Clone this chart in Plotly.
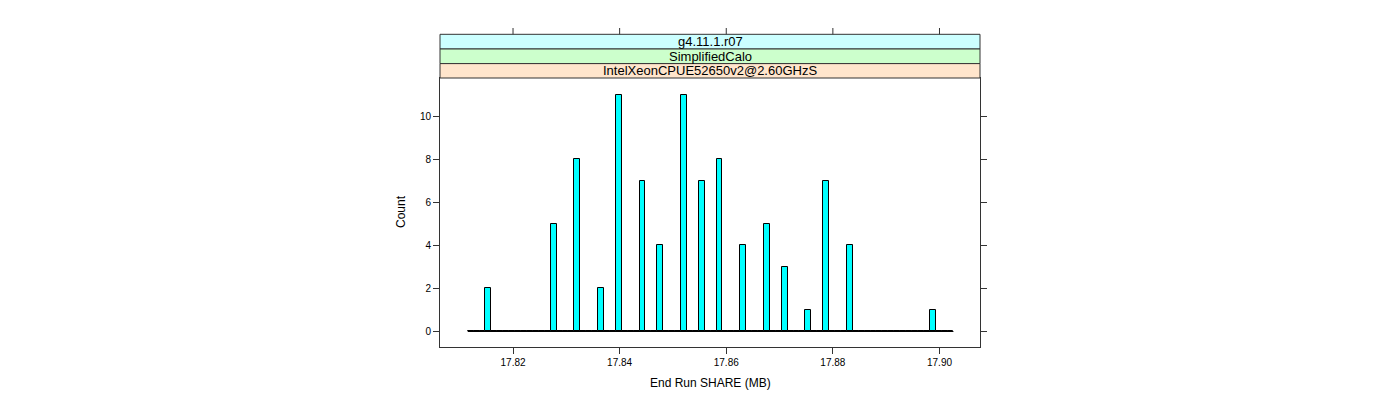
import plotly.graph_objects as go

# ---- data ----
bin_start = 17.8115
bin_width = 0.0011112
counts = [0, 0, 0, 2, 0, 0, 0, 0, 0, 0,
          0, 0, 0, 0, 5, 0, 0, 0, 8, 0,
          0, 0, 2, 0, 0, 11, 0, 0, 0, 7,
          0, 0, 4, 0, 0, 0, 11, 0, 0, 7,
          0, 0, 8, 0, 0, 0, 4, 0, 0, 0,
          5, 0, 0, 3, 0, 0, 0, 1, 0, 0,
          7, 0, 0, 0, 4, 0, 0, 0, 0, 0,
          0, 0, 0, 0, 0, 0, 0, 0, 1, 0,
          0, 0]
x_ticks = [17.82, 17.84, 17.86, 17.88, 17.90]
x_tick_labels = ["17.82", "17.84", "17.86", "17.88", "17.90"]
y_ticks = [0, 2, 4, 6, 8, 10]
strip_labels = ["g4.11.1.r07", "SimplifiedCalo", "IntelXeonCPUE52650v2@2.60GHzS"]
strip_colors = ["#CCFFFF", "#CCFFCC", "#FFE5CC"]
x_title = "End Run SHARE (MB)"
y_title = "Count"

# ---- layout geometry (screen pixels; page body has an 8px offset) ----
W, H = 1400, 400
OFF = 8
P_LEFT, P_RIGHT, P_TOP, P_BOT = 440, 980, 78, 347   # panel in screen px
L = P_LEFT - OFF
R = W - (P_RIGHT - OFF)
T = P_TOP - OFF
B = H - (P_BOT - OFF)
plot_h = P_BOT - P_TOP
plot_w = P_RIGHT - P_LEFT
FONT = "Liberation Sans, Arial, Helvetica, sans-serif"
EDGE = "#333333"


def py(pix):
    """screen pixel y -> paper y"""
    return (P_BOT - pix) / plot_h


def px(pix):
    """screen pixel x -> paper x"""
    return (pix - P_LEFT) / plot_w


centers = [bin_start + (i + 0.5) * bin_width for i in range(len(counts))]
edge_lo = bin_start
edge_hi = bin_start + len(counts) * bin_width

fig = go.Figure()
fig.add_trace(go.Scatter(x=[edge_lo, edge_hi], y=[0, 0], mode="lines",
                         line=dict(color="black", width=1), hoverinfo="skip",
                         showlegend=False))
fig.add_trace(go.Bar(x=centers, y=counts, width=bin_width,
                     marker=dict(color="#00FFFF", line=dict(color="black", width=1)),
                     showlegend=False))

shapes = []
strip_edges = [34.3, 49.0, 63.6, 78.0]
annotations = []
for k, (lab, col) in enumerate(zip(strip_labels, strip_colors)):
    y0 = py(strip_edges[k + 1])
    y1 = py(strip_edges[k])
    shapes.append(dict(type="rect", xref="paper", yref="paper", x0=0, x1=1,
                       y0=y0, y1=y1, fillcolor=col, line=dict(color=EDGE, width=1),
                       layer="above"))
    annotations.append(dict(text=lab, xref="paper", yref="paper", x=0.5,
                            y=(y0 + y1) / 2, showarrow=False, xanchor="center",
                            yanchor="middle",
                            font=dict(family=FONT, size=13, color="black")))
for t in x_ticks:
    shapes.append(dict(type="line", xref="x", yref="paper", x0=t, x1=t,
                       y0=py(34.3), y1=py(28.0), line=dict(color=EDGE, width=1)))

annotations.append(dict(text=x_title, xref="paper", yref="paper", x=0.5,
                        y=py(383), showarrow=False, xanchor="center", yanchor="middle",
                        font=dict(family=FONT, size=12, color="black")))
annotations.append(dict(text=y_title, xref="paper", yref="paper",
                        x=px(401), y=py(212), textangle=-90,
                        showarrow=False, xanchor="center", yanchor="middle",
                        font=dict(family=FONT, size=12, color="black")))

fig.update_layout(
    width=W, height=H,
    margin=dict(l=L, r=R, t=T, b=B, pad=0),
    paper_bgcolor="white", plot_bgcolor="white",
    bargap=0,
    shapes=shapes, annotations=annotations,
    xaxis=dict(range=[17.8063, 17.9076], tickvals=x_ticks, ticktext=x_tick_labels,
               ticks="outside", ticklen=6, tickcolor=EDGE, showline=True,
               linecolor=EDGE, linewidth=1, mirror=True, showgrid=False,
               zeroline=False, tickfont=dict(family=FONT, size=10, color="black")),
    yaxis=dict(range=[-0.72, 11.77], tickvals=y_ticks,
               ticks="outside", ticklen=6, tickcolor=EDGE, showline=True,
               linecolor=EDGE, linewidth=1, mirror="ticks", showgrid=False,
               zeroline=False, tickfont=dict(family=FONT, size=10, color="black")),
)

fig.write_html("out.html")
